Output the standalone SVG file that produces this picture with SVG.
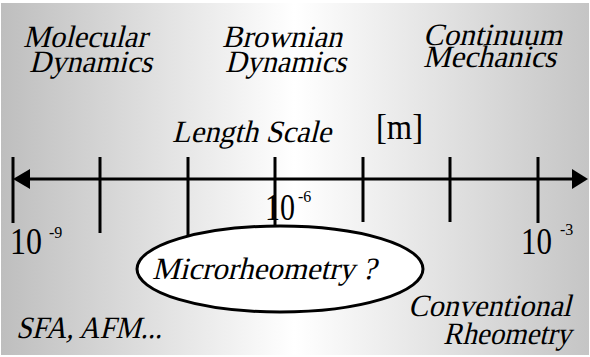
<svg xmlns="http://www.w3.org/2000/svg" width="590" height="357" viewBox="0 0 590 357">
<defs>
<linearGradient id="bg" x1="0" y1="0" x2="1" y2="0">
<stop offset="0" stop-color="#bebebe"/>
<stop offset="0.5" stop-color="#ffffff"/>
<stop offset="1" stop-color="#c5c5c5"/>
</linearGradient>
</defs>
<rect width="590" height="357" fill="#fff"/>
<rect x="1" y="3" width="588" height="352" fill="url(#bg)"/>
<g font-family="Liberation Serif, serif" font-size="31" fill="#000">
<g id="molecular">
<text transform="translate(23,47) skewX(-14)" textLength="124" lengthAdjust="spacingAndGlyphs">Molecular</text>
<text transform="translate(29,72) skewX(-14)" textLength="123" lengthAdjust="spacingAndGlyphs">Dynamics</text>
</g>
<g id="brownian">
<text transform="translate(222,47) skewX(-14)" textLength="120" lengthAdjust="spacingAndGlyphs">Brownian</text>
<text transform="translate(225,72) skewX(-14)" textLength="121" lengthAdjust="spacingAndGlyphs">Dynamics</text>
</g>
<g id="continuum">
<text transform="translate(423,45) skewX(-14)" textLength="139" lengthAdjust="spacingAndGlyphs">Continuum</text>
<text transform="translate(423,67) skewX(-14)" textLength="133" lengthAdjust="spacingAndGlyphs">Mechanics</text>
</g>
<g id="axis-title">
<text transform="translate(172,142) skewX(-14)" textLength="159" lengthAdjust="spacingAndGlyphs">Length Scale</text>
<text x="376" y="139" font-size="36" textLength="47" lengthAdjust="spacingAndGlyphs">[m]</text>
</g>
</g>
<g id="connectors" stroke="#000" stroke-width="3" fill="none">
<line x1="26" y1="179" x2="574" y2="179"/>
<polygon points="13,179 30,169 30,189" fill="#000" stroke="none"/>
<polygon points="588,179 572,169 572,189" fill="#000" stroke="none"/>
<line x1="13" y1="157" x2="13" y2="223"/>
<line x1="100" y1="157" x2="100" y2="233"/>
<line x1="188" y1="157" x2="188" y2="240"/>
<line x1="275" y1="157" x2="275" y2="230"/>
<line x1="363" y1="157" x2="363" y2="222"/>
<line x1="450" y1="157" x2="450" y2="222"/>
<line x1="538" y1="157" x2="538" y2="223"/>
</g>
<g id="tick-labels" font-family="Liberation Serif, serif" fill="#000">
<text x="265" y="220" font-size="38" textLength="30" lengthAdjust="spacingAndGlyphs">10</text>
<text x="298" y="202" font-size="16">-6</text>
<text x="10" y="254" font-size="38" textLength="32" lengthAdjust="spacingAndGlyphs">10</text>
<text x="49" y="238" font-size="16">-9</text>
<text x="521" y="254" font-size="38" textLength="31" lengthAdjust="spacingAndGlyphs">10</text>
<text x="560" y="235" font-size="16">-3</text>
</g>
<g id="microrheometry">
<ellipse cx="280" cy="269" rx="143" ry="43" fill="#fff" stroke="#000" stroke-width="3"/>
<text transform="translate(152,279) skewX(-14)" font-family="Liberation Serif, serif" font-size="31" textLength="224" lengthAdjust="spacingAndGlyphs">Microrheometry ?</text>
</g>
<g id="conventional" font-family="Liberation Serif, serif" font-size="31" fill="#000">
<text transform="translate(408,316) skewX(-14)" textLength="163" lengthAdjust="spacingAndGlyphs">Conventional</text>
<text transform="translate(443,344) skewX(-14)" textLength="128" lengthAdjust="spacingAndGlyphs">Rheometry</text>
</g>
<g id="sfa" font-family="Liberation Serif, serif" font-size="31" fill="#000">
<text transform="translate(16,338) skewX(-14)" textLength="146" lengthAdjust="spacingAndGlyphs">SFA, AFM...</text>
</g>
</svg>
